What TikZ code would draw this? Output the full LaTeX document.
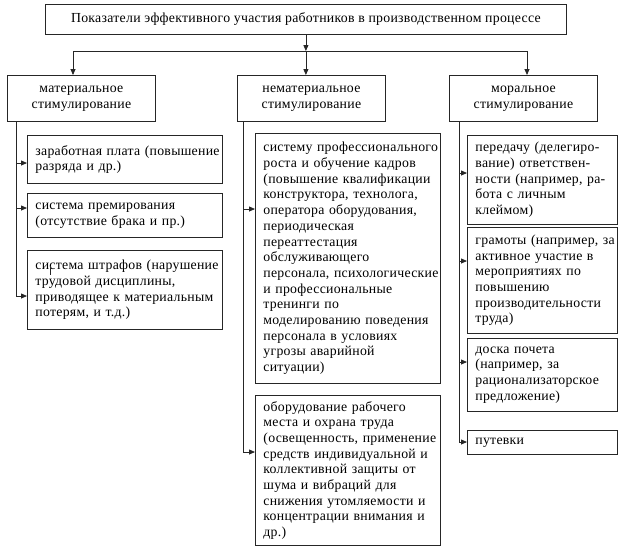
\documentclass[tikz,border=0pt]{standalone}
\usepackage{fontspec}
\setmainfont[LetterSpace=2]{Liberation Serif}
\usetikzlibrary{arrows.meta}
\tikzset{
  box/.style={draw=black!85, line width=0.8pt, inner xsep=8pt, inner ysep=0pt, anchor=north west,
    execute at begin node={\parindent=0pt\rightskip=0pt minus 300pt\relax},
    font=\fontsize{13.8}{15.7}\selectfont},
  cbox/.style={draw=black!85, line width=0.8pt, inner sep=0pt, anchor=north west, align=center, font=\fontsize{13.8}{15.7}\selectfont},
  conn/.style={draw=black!85, line width=0.8pt},
  arr/.style={conn, -{Triangle[length=6pt,width=5pt]}},
}
\begin{document}
\begin{tikzpicture}[x=1pt,y=-1pt]
\useasboundingbox[fill=white] (0,0) rectangle (624,550);
% top
\node[cbox, minimum width=521, minimum height=30] (top) at (45,4) {Показатели эффективного участия работников в производственном процессе};
% categories
\node[cbox, minimum width=148, minimum height=46] (cl) at (7,75) {материальное\\стимулирование};
\node[cbox, minimum width=148, minimum height=46] (cm) at (237,75) {нематериальное\\стимулирование};
\node[cbox, minimum width=148, minimum height=46] (cr) at (449,75) {моральное\\стимулирование};
% left items
\node[box, text width=179, minimum height=48] (l1) at (27,135) {заработная плата (повышение\\разряда и др.)};
\node[box, text width=179, minimum height=44] (l2) at (27,193) {система премирования\\(отсутствие брака и пр.)};
\node[box, text width=179, minimum height=79] (l3) at (27,250) {система штрафов (нарушение\\трудовой дисциплины,\\приводящее к материальным\\потерям, и т.д.)};
% middle items
\node[box, text width=169, minimum height=250] (m1) at (255,133) {систему профессионального\\роста и обучение кадров\\(повышение квалификации\\конструктора, технолога,\\оператора оборудования,\\периодическая\\переаттестация\\обслуживающего\\персонала, психологические\\и профессиональные\\тренинги по\\моделированию поведения\\персонала в условиях\\угрозы аварийной\\ситуации)};
\node[box, text width=169, minimum height=150] (m2) at (255,395) {оборудование рабочего\\места и охрана труда\\(освещенность, применение\\средств индивидуальной и\\коллективной защиты от\\шума и вибраций для\\снижения утомляемости и\\концентрации внимания и\\др.)};
% right items
\node[box, text width=134, minimum height=89] (r1) at (467,135) {передачу (делегиро-\\вание) ответствен-\\ности (например, ра-\\бота с личным\\клеймом)};
\node[box, text width=134, minimum height=106] (r2) at (467,227) {грамоты (например, за\\активное участие в\\мероприятиях по\\повышению\\производительности\\труда)};
\node[box, text width=134, minimum height=73] (r3) at (467,338) {доска почета\\(например, за\\рационализаторское\\предложение)};
\node[box, text width=134, minimum height=24] (r4) at (467,430) {путевки};
% top connectors
\coordinate (hl) at (73,51);
\coordinate (hm) at (top.south |- hl);
\coordinate (hr) at (527,51);
\draw[arr] (top.south) -- (hm);
\draw[conn] (hl) -- (hr);
\draw[arr] (hl) -- (hl |- cl.north);
\draw[arr] (hm) -- (hm |- cm.north);
\draw[arr] (hr) -- (hr |- cr.north);
% left branch
\coordinate (lb1) at (16,163);
\coordinate (lb2) at (16,208);
\coordinate (lb3) at (16,296);
\draw[conn] (cl.south -| lb1) -- (lb3);
\draw[arr] (lb1) -- (lb1 -| l1.west);
\draw[arr] (lb2) -- (lb2 -| l2.west);
\draw[arr] (lb3) -- (lb3 -| l3.west);
% middle branch
\coordinate (mb1) at (243,209);
\coordinate (mb2) at (243,452);
\draw[conn] (cm.south -| mb1) -- (mb2);
\draw[arr] (mb1) -- (mb1 -| m1.west);
\draw[arr] (mb2) -- (mb2 -| m2.west);
% right branch
\coordinate (rb1) at (459,173);
\coordinate (rb2) at (459,261);
\coordinate (rb3) at (459,362);
\coordinate (rb4) at (459,442);
\draw[conn] (cr.south -| rb1) -- (rb4);
\draw[arr] (rb1) -- (rb1 -| r1.west);
\draw[arr] (rb2) -- (rb2 -| r2.west);
\draw[arr] (rb3) -- (rb3 -| r3.west);
\draw[arr] (rb4) -- (rb4 -| r4.west);
% stray mark in the reference
\draw[conn, line width=0.6pt] (50,266) -- (50,275);
\end{tikzpicture}
\end{document}
